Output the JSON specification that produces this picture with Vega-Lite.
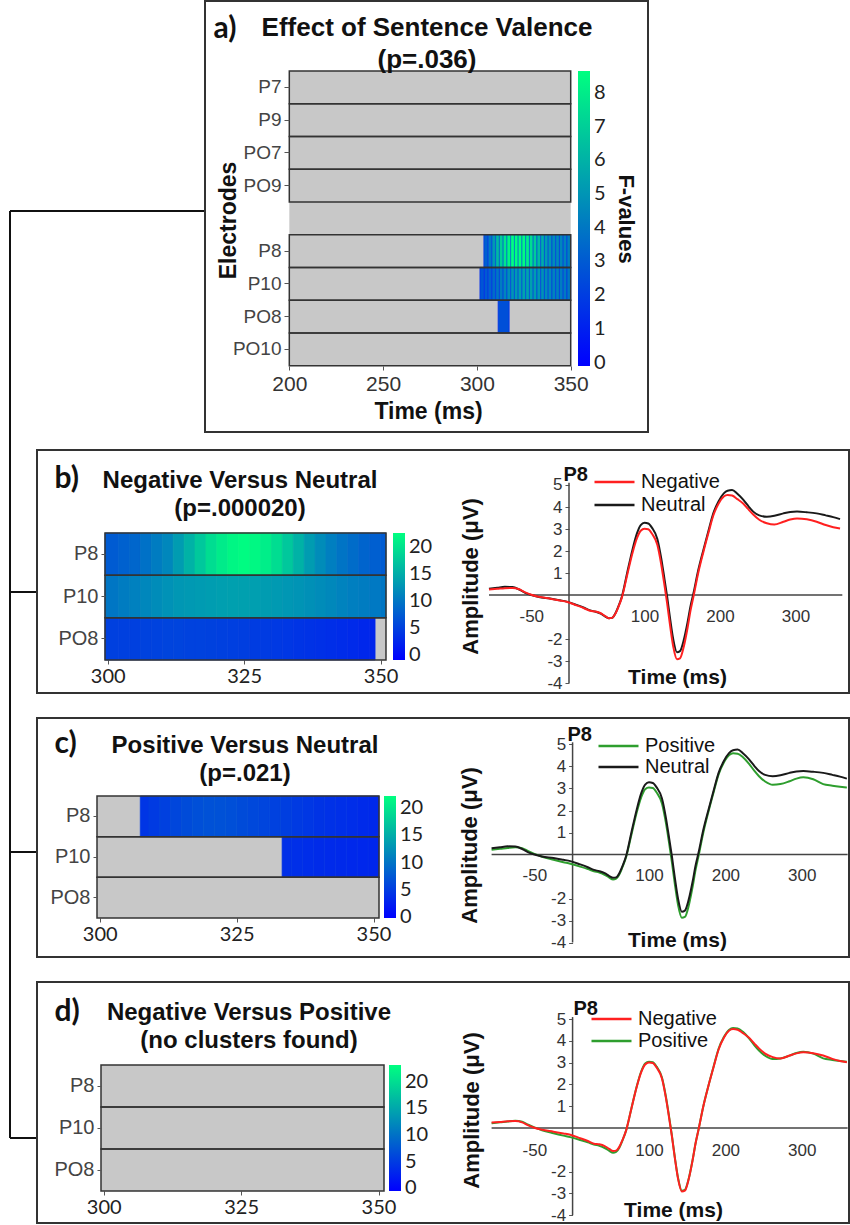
{
"$schema": "https://vega.github.io/schema/vega-lite/v6.json",
"padding": 0,
"autosize": {"type": "pad"},
"background": "white",
"config": {
 "font": "Liberation Sans",
 "view": {"stroke": null},
 "axis": {"grid": false, "domain": false, "labelColor": "#333", "tickColor": "#555", "labelFont": "Liberation Sans", "titleFont": "Liberation Sans"},
 "legend": {"labelFont": "Liberation Sans", "titleFont": "Liberation Sans"},
 "title": {"font": "Liberation Sans", "fontWeight": "bold", "fontSize": 24, "color": "#111", "anchor": "middle", "frame": "group", "lineHeight": 28}
},
"datasets": {
 "elecA": [{"e":"P7"},{"e":"P9"},{"e":"PO7"},{"e":"PO9"},{"e":"gap"},{"e":"P8"},{"e":"P10"},{"e":"PO8"},{"e":"PO10"}],
 "elec3": [{"e":"P8"},{"e":"P10"},{"e":"PO8"}],
 "erp": [
  {"t":-106,"Neutral":0.28,"Negative":0.25,"Positive":0.22},
  {"t":-95,"Neutral":0.33,"Negative":0.28,"Positive":0.26},
  {"t":-85,"Neutral":0.37,"Negative":0.31,"Positive":0.30},
  {"t":-75,"Neutral":0.36,"Negative":0.32,"Positive":0.33},
  {"t":-66,"Neutral":0.25,"Negative":0.26,"Positive":0.29},
  {"t":-58,"Neutral":0.10,"Negative":0.12,"Positive":0.15},
  {"t":-50,"Neutral":0.0,"Negative":0.01,"Positive":0.03},
  {"t":-40,"Neutral":-0.09,"Negative":-0.08,"Positive":-0.10},
  {"t":-25,"Neutral":-0.16,"Negative":-0.17,"Positive":-0.24},
  {"t":-12,"Neutral":-0.24,"Negative":-0.25,"Positive":-0.35},
  {"t":-3,"Neutral":-0.30,"Negative":-0.31,"Positive":-0.42},
  {"t":10,"Neutral":-0.45,"Negative":-0.47,"Positive":-0.55},
  {"t":20,"Neutral":-0.58,"Negative":-0.60,"Positive":-0.66},
  {"t":28,"Neutral":-0.70,"Negative":-0.72,"Positive":-0.76},
  {"t":35,"Neutral":-0.76,"Negative":-0.75,"Positive":-0.82},
  {"t":42,"Neutral":-0.85,"Negative":-0.83,"Positive":-0.92},
  {"t":48,"Neutral":-0.98,"Negative":-0.96,"Positive":-1.05},
  {"t":53,"Neutral":-1.06,"Negative":-1.06,"Positive":-1.14},
  {"t":57,"Neutral":-1.04,"Negative":-1.04,"Positive":-1.10},
  {"t":61,"Neutral":-0.86,"Negative":-0.88,"Positive":-0.92},
  {"t":65,"Neutral":-0.55,"Negative":-0.58,"Positive":-0.60},
  {"t":70,"Neutral":-0.08,"Negative":-0.12,"Positive":-0.12},
  {"t":77,"Neutral":1.00,"Negative":0.90,"Positive":0.90},
  {"t":84,"Neutral":2.05,"Negative":1.90,"Positive":1.92},
  {"t":90,"Neutral":2.80,"Negative":2.58,"Positive":2.62},
  {"t":95,"Neutral":3.18,"Negative":2.92,"Positive":2.97},
  {"t":100,"Neutral":3.28,"Negative":3.01,"Positive":3.05},
  {"t":105,"Neutral":3.25,"Negative":2.99,"Positive":3.02},
  {"t":110,"Neutral":3.05,"Negative":2.78,"Positive":2.82},
  {"t":117,"Neutral":2.55,"Negative":2.28,"Positive":2.32},
  {"t":122,"Neutral":1.70,"Negative":1.42,"Positive":1.47},
  {"t":126,"Neutral":0.83,"Negative":0.55,"Positive":0.60},
  {"t":130,"Neutral":-0.08,"Negative":-0.38,"Positive":-0.34},
  {"t":134,"Neutral":-1.10,"Negative":-1.42,"Positive":-1.38},
  {"t":138,"Neutral":-2.00,"Negative":-2.33,"Positive":-2.28},
  {"t":143,"Neutral":-2.60,"Negative":-2.92,"Positive":-2.88},
  {"t":147,"Neutral":-2.55,"Negative":-2.88,"Positive":-2.84},
  {"t":152,"Neutral":-2.05,"Negative":-2.35,"Positive":-2.33},
  {"t":157,"Neutral":-1.25,"Negative":-1.50,"Positive":-1.49},
  {"t":161,"Neutral":-0.50,"Negative":-0.70,"Positive":-0.70},
  {"t":165,"Neutral":0.10,"Negative":-0.05,"Positive":-0.05},
  {"t":171,"Neutral":1.10,"Negative":0.98,"Positive":0.98},
  {"t":178,"Neutral":2.05,"Negative":1.96,"Positive":1.97},
  {"t":185,"Neutral":2.95,"Negative":2.86,"Positive":2.88},
  {"t":191,"Neutral":3.70,"Negative":3.60,"Positive":3.63},
  {"t":198,"Neutral":4.25,"Negative":4.15,"Positive":4.18},
  {"t":205,"Neutral":4.62,"Negative":4.48,"Positive":4.52},
  {"t":210,"Neutral":4.74,"Negative":4.55,"Positive":4.60},
  {"t":216,"Neutral":4.77,"Negative":4.52,"Positive":4.58},
  {"t":223,"Neutral":4.60,"Negative":4.36,"Positive":4.42},
  {"t":231,"Neutral":4.32,"Negative":4.15,"Positive":4.12},
  {"t":238,"Neutral":4.02,"Negative":3.88,"Positive":3.80},
  {"t":244,"Neutral":3.79,"Negative":3.66,"Positive":3.56},
  {"t":252,"Neutral":3.62,"Negative":3.42,"Positive":3.32},
  {"t":262,"Neutral":3.56,"Negative":3.26,"Positive":3.17},
  {"t":272,"Neutral":3.60,"Negative":3.20,"Positive":3.20},
  {"t":284,"Neutral":3.71,"Negative":3.33,"Positive":3.33},
  {"t":293,"Neutral":3.77,"Negative":3.43,"Positive":3.45},
  {"t":302,"Neutral":3.79,"Negative":3.48,"Positive":3.51},
  {"t":315,"Neutral":3.76,"Negative":3.44,"Positive":3.42},
  {"t":328,"Neutral":3.71,"Negative":3.33,"Positive":3.20},
  {"t":340,"Neutral":3.62,"Negative":3.18,"Positive":3.13},
  {"t":350,"Neutral":3.54,"Negative":3.08,"Positive":3.08},
  {"t":359,"Neutral":3.45,"Negative":3.02,"Positive":3.04}
 ],
 "heat": [
  {"p":"a","e":"P8","a":303.7,"b":306,"f":3.2},{"p":"a","e":"P8","a":306,"b":308,"f":4.2},{"p":"a","e":"P8","a":308,"b":310,"f":5.2},{"p":"a","e":"P8","a":310,"b":312,"f":6.2},{"p":"a","e":"P8","a":312,"b":314,"f":7.0},{"p":"a","e":"P8","a":314,"b":316,"f":7.8},{"p":"a","e":"P8","a":316,"b":318,"f":8.3},{"p":"a","e":"P8","a":318,"b":320,"f":8.6},{"p":"a","e":"P8","a":320,"b":322,"f":8.7},{"p":"a","e":"P8","a":322,"b":324,"f":8.7},{"p":"a","e":"P8","a":324,"b":326,"f":8.5},{"p":"a","e":"P8","a":326,"b":328,"f":8.1},{"p":"a","e":"P8","a":328,"b":330,"f":7.5},{"p":"a","e":"P8","a":330,"b":332,"f":6.9},{"p":"a","e":"P8","a":332,"b":334,"f":6.3},{"p":"a","e":"P8","a":334,"b":336,"f":5.8},{"p":"a","e":"P8","a":336,"b":338,"f":5.3},{"p":"a","e":"P8","a":338,"b":340,"f":5.0},{"p":"a","e":"P8","a":340,"b":342,"f":4.7},{"p":"a","e":"P8","a":342,"b":344,"f":4.6},{"p":"a","e":"P8","a":344,"b":346,"f":4.5},{"p":"a","e":"P8","a":346,"b":348,"f":4.4},{"p":"a","e":"P8","a":348,"b":350,"f":4.3},
  {"p":"a","e":"P10","a":301.6,"b":304,"f":2.8},{"p":"a","e":"P10","a":304,"b":306,"f":3.0},{"p":"a","e":"P10","a":306,"b":308,"f":3.3},{"p":"a","e":"P10","a":308,"b":310,"f":3.6},{"p":"a","e":"P10","a":310,"b":312,"f":3.9},{"p":"a","e":"P10","a":312,"b":314,"f":4.2},{"p":"a","e":"P10","a":314,"b":316,"f":4.5},{"p":"a","e":"P10","a":316,"b":318,"f":4.8},{"p":"a","e":"P10","a":318,"b":320,"f":5.0},{"p":"a","e":"P10","a":320,"b":322,"f":5.2},{"p":"a","e":"P10","a":322,"b":324,"f":5.4},{"p":"a","e":"P10","a":324,"b":326,"f":5.5},{"p":"a","e":"P10","a":326,"b":328,"f":5.5},{"p":"a","e":"P10","a":328,"b":330,"f":5.4},{"p":"a","e":"P10","a":330,"b":332,"f":5.3},{"p":"a","e":"P10","a":332,"b":334,"f":5.1},{"p":"a","e":"P10","a":334,"b":336,"f":4.9},{"p":"a","e":"P10","a":336,"b":338,"f":4.7},{"p":"a","e":"P10","a":338,"b":340,"f":4.6},{"p":"a","e":"P10","a":340,"b":342,"f":4.4},{"p":"a","e":"P10","a":342,"b":344,"f":4.3},{"p":"a","e":"P10","a":344,"b":346,"f":4.2},{"p":"a","e":"P10","a":346,"b":348,"f":4.1},{"p":"a","e":"P10","a":348,"b":350,"f":4.0},
  {"p":"a","e":"PO8","a":311.3,"b":317.2,"f":2.6},
  {"p":"b","e":"P8","a":299.5,"b":302,"f":7.5},{"p":"b","e":"P8","a":302,"b":304,"f":8},{"p":"b","e":"P8","a":304,"b":306,"f":8.5},{"p":"b","e":"P8","a":306,"b":308,"f":9.5},{"p":"b","e":"P8","a":308,"b":310,"f":10.5},{"p":"b","e":"P8","a":310,"b":312,"f":11.5},{"p":"b","e":"P8","a":312,"b":314,"f":13.5},{"p":"b","e":"P8","a":314,"b":316,"f":15.5},{"p":"b","e":"P8","a":316,"b":318,"f":17.5},{"p":"b","e":"P8","a":318,"b":320,"f":19.5},{"p":"b","e":"P8","a":320,"b":322,"f":20.8},{"p":"b","e":"P8","a":322,"b":324,"f":21.8},{"p":"b","e":"P8","a":324,"b":326,"f":22.3},{"p":"b","e":"P8","a":326,"b":328,"f":22},{"p":"b","e":"P8","a":328,"b":330,"f":21},{"p":"b","e":"P8","a":330,"b":332,"f":19.5},{"p":"b","e":"P8","a":332,"b":334,"f":17.5},{"p":"b","e":"P8","a":334,"b":336,"f":15.5},{"p":"b","e":"P8","a":336,"b":338,"f":13.5},{"p":"b","e":"P8","a":338,"b":340,"f":12},{"p":"b","e":"P8","a":340,"b":342,"f":10.8},{"p":"b","e":"P8","a":342,"b":344,"f":9.8},{"p":"b","e":"P8","a":344,"b":346,"f":9},{"p":"b","e":"P8","a":346,"b":348,"f":8.3},{"p":"b","e":"P8","a":348,"b":350,"f":7.8},{"p":"b","e":"P8","a":350,"b":351,"f":7.5},
  {"p":"b","e":"P10","a":299.5,"b":302,"f":10},{"p":"b","e":"P10","a":302,"b":304,"f":10.5},{"p":"b","e":"P10","a":304,"b":306,"f":11},{"p":"b","e":"P10","a":306,"b":308,"f":11.5},{"p":"b","e":"P10","a":308,"b":310,"f":12},{"p":"b","e":"P10","a":310,"b":312,"f":12.5},{"p":"b","e":"P10","a":312,"b":314,"f":13},{"p":"b","e":"P10","a":314,"b":316,"f":13.2},{"p":"b","e":"P10","a":316,"b":318,"f":13.4},{"p":"b","e":"P10","a":318,"b":320,"f":13.6},{"p":"b","e":"P10","a":320,"b":322,"f":13.7},{"p":"b","e":"P10","a":322,"b":324,"f":13.8},{"p":"b","e":"P10","a":324,"b":326,"f":13.8},{"p":"b","e":"P10","a":326,"b":328,"f":13.7},{"p":"b","e":"P10","a":328,"b":330,"f":13.5},{"p":"b","e":"P10","a":330,"b":332,"f":13.3},{"p":"b","e":"P10","a":332,"b":334,"f":13},{"p":"b","e":"P10","a":334,"b":336,"f":12.7},{"p":"b","e":"P10","a":336,"b":338,"f":12.4},{"p":"b","e":"P10","a":338,"b":340,"f":12},{"p":"b","e":"P10","a":340,"b":342,"f":11.6},{"p":"b","e":"P10","a":342,"b":344,"f":11.2},{"p":"b","e":"P10","a":344,"b":346,"f":10.8},{"p":"b","e":"P10","a":346,"b":348,"f":10.5},{"p":"b","e":"P10","a":348,"b":350,"f":10.2},{"p":"b","e":"P10","a":350,"b":351,"f":10},
  {"p":"b","e":"PO8","a":299.5,"b":302,"f":5},{"p":"b","e":"PO8","a":302,"b":304,"f":5},{"p":"b","e":"PO8","a":304,"b":306,"f":5},{"p":"b","e":"PO8","a":306,"b":308,"f":5.2},{"p":"b","e":"PO8","a":308,"b":310,"f":5.2},{"p":"b","e":"PO8","a":310,"b":312,"f":5.3},{"p":"b","e":"PO8","a":312,"b":314,"f":5.3},{"p":"b","e":"PO8","a":314,"b":316,"f":5.2},{"p":"b","e":"PO8","a":316,"b":318,"f":5.2},{"p":"b","e":"PO8","a":318,"b":320,"f":5.1},{"p":"b","e":"PO8","a":320,"b":322,"f":5},{"p":"b","e":"PO8","a":322,"b":324,"f":4.9},{"p":"b","e":"PO8","a":324,"b":326,"f":4.8},{"p":"b","e":"PO8","a":326,"b":328,"f":4.6},{"p":"b","e":"PO8","a":328,"b":330,"f":4.5},{"p":"b","e":"PO8","a":330,"b":332,"f":4.3},{"p":"b","e":"PO8","a":332,"b":334,"f":4.1},{"p":"b","e":"PO8","a":334,"b":336,"f":3.9},{"p":"b","e":"PO8","a":336,"b":338,"f":3.7},{"p":"b","e":"PO8","a":338,"b":340,"f":3.5},{"p":"b","e":"PO8","a":340,"b":342,"f":3.3},{"p":"b","e":"PO8","a":342,"b":344,"f":3.1},{"p":"b","e":"PO8","a":344,"b":346,"f":2.9},{"p":"b","e":"PO8","a":346,"b":348,"f":2.7},{"p":"b","e":"PO8","a":348,"b":349,"f":2.5},
  {"p":"c","e":"P8","a":307.4,"b":309,"f":4.5},{"p":"c","e":"P8","a":309,"b":311,"f":5},{"p":"c","e":"P8","a":311,"b":313,"f":5.5},{"p":"c","e":"P8","a":313,"b":315,"f":6},{"p":"c","e":"P8","a":315,"b":317,"f":6.5},{"p":"c","e":"P8","a":317,"b":319,"f":6.8},{"p":"c","e":"P8","a":319,"b":321,"f":7},{"p":"c","e":"P8","a":321,"b":323,"f":7},{"p":"c","e":"P8","a":323,"b":325,"f":6.8},{"p":"c","e":"P8","a":325,"b":327,"f":6.5},{"p":"c","e":"P8","a":327,"b":329,"f":6.2},{"p":"c","e":"P8","a":329,"b":331,"f":5.9},{"p":"c","e":"P8","a":331,"b":333,"f":5.6},{"p":"c","e":"P8","a":333,"b":335,"f":5.3},{"p":"c","e":"P8","a":335,"b":337,"f":5},{"p":"c","e":"P8","a":337,"b":339,"f":4.7},{"p":"c","e":"P8","a":339,"b":341,"f":4.4},{"p":"c","e":"P8","a":341,"b":343,"f":4.2},{"p":"c","e":"P8","a":343,"b":345,"f":4},{"p":"c","e":"P8","a":345,"b":347,"f":3.8},{"p":"c","e":"P8","a":347,"b":349,"f":3.6},{"p":"c","e":"P8","a":349,"b":351,"f":3.4},
  {"p":"c","e":"P10","a":333.3,"b":335,"f":4},{"p":"c","e":"P10","a":335,"b":337,"f":4},{"p":"c","e":"P10","a":337,"b":339,"f":3.8},{"p":"c","e":"P10","a":339,"b":341,"f":3.7},{"p":"c","e":"P10","a":341,"b":343,"f":3.6},{"p":"c","e":"P10","a":343,"b":345,"f":3.5},{"p":"c","e":"P10","a":345,"b":347,"f":3.4},{"p":"c","e":"P10","a":347,"b":349,"f":3.3},{"p":"c","e":"P10","a":349,"b":351,"f":3.2}
 ]
},
"spacing": 0,
"bounds": "flush",
"hconcat": [
 {
  "width": 37, "height": 1222,
  "data": {"values": [{}]},
  "layer": [
   {"mark": {"type": "rule", "color": "#111", "strokeWidth": 2}, "encoding": {"x": {"datum": 10, "type": "quantitative", "scale": {"domain": [0, 37], "nice": false, "zero": false}, "axis": null}, "y": {"datum": 211, "type": "quantitative", "scale": {"domain": [1, 1223], "nice": false, "zero": false, "reverse": true}, "axis": null}, "y2": {"datum": 1138}}},
   {"mark": {"type": "rule", "color": "#111", "strokeWidth": 2}, "encoding": {"x": {"datum": 10, "type": "quantitative", "scale": {"domain": [0, 37], "nice": false, "zero": false}, "axis": null}, "x2": {"datum": 205}, "y": {"datum": 211, "type": "quantitative", "scale": {"domain": [1, 1223], "nice": false, "zero": false, "reverse": true}, "axis": null}}},
   {"mark": {"type": "rule", "color": "#111", "strokeWidth": 2}, "encoding": {"x": {"datum": 10, "type": "quantitative", "scale": {"domain": [0, 37], "nice": false, "zero": false}, "axis": null}, "x2": {"datum": 37}, "y": {"datum": 592, "type": "quantitative", "scale": {"domain": [1, 1223], "nice": false, "zero": false, "reverse": true}, "axis": null}}},
   {"mark": {"type": "rule", "color": "#111", "strokeWidth": 2}, "encoding": {"x": {"datum": 10, "type": "quantitative", "scale": {"domain": [0, 37], "nice": false, "zero": false}, "axis": null}, "x2": {"datum": 37}, "y": {"datum": 852, "type": "quantitative", "scale": {"domain": [1, 1223], "nice": false, "zero": false, "reverse": true}, "axis": null}}},
   {"mark": {"type": "rule", "color": "#111", "strokeWidth": 2}, "encoding": {"x": {"datum": 10, "type": "quantitative", "scale": {"domain": [0, 37], "nice": false, "zero": false}, "axis": null}, "x2": {"datum": 37}, "y": {"datum": 1138, "type": "quantitative", "scale": {"domain": [1, 1223], "nice": false, "zero": false, "reverse": true}, "axis": null}}}
  ]
 },
 {
  "spacing": 16,
  "bounds": "full",
  "vconcat": [
   {
    "spacing": 10,
    "bounds": "flush",
    "hconcat": [
     {"width": 158, "height": 431, "data": {"values": [{}]}, "mark": {"type": "point", "opacity": 0}},
     {
      "width": 443, "height": 431,
      "view": {"stroke": "#333", "strokeWidth": 2},
      "title": {"text": ["Effect of Sentence Valence", "(p=.036)"], "dx": 0.5, "offset": -72, "fontSize": 26, "lineHeight": 32},
      "layer": [
       {"data": {"name": "elecA"}, "mark": {"type": "rect", "fill": "#c8c8c8"},
        "encoding": {
         "x": {"datum": 200, "type": "quantitative", "scale": {"domain": [155.06, 391.2], "nice": false, "zero": false},
               "axis": {"orient": "bottom", "offset": -66, "values": [200, 250, 300, 350], "tickSize": 4, "labelFontSize": 21, "labelColor": "#333", "labelPadding": 3, "title": "Time (ms)", "titleFontSize": 23, "titleFontWeight": "bold", "titleColor": "#111", "titleX": 223, "titleY": 52, "titleAlign": "center", "titleBaseline": "alphabetic"}},
         "x2": {"datum": 350},
         "y": {"field": "e", "type": "nominal", "scale": {"type": "band", "domain": ["P7","P9","PO7","PO9","gap","P8","P10","PO8","PO10"], "range": [70, 364.7], "paddingInner": 0, "paddingOuter": 0},
               "axis": {"orient": "left", "offset": -84, "values": ["P7","P9","PO7","PO9","P8","P10","PO8","PO10"], "tickSize": 5, "labelFontSize": 19, "labelColor": "#444", "labelPadding": 3, "title": "Electrodes", "titleFontSize": 23, "titleFontWeight": "bold", "titleColor": "#111", "titleAngle": -90, "titleX": -61, "titleY": 219, "titleAlign": "center", "titleBaseline": "middle"}}
        }},
       {"data": {"name": "heat"}, "transform": [{"filter": "datum.p === 'a'"}], "mark": {"type": "rect", "strokeWidth": 0.7},
        "encoding": {
         "x": {"field": "a", "type": "quantitative", "scale": {"domain": [155.06, 391.2], "nice": false, "zero": false}, "axis": null},
         "x2": {"field": "b"},
         "y": {"field": "e", "type": "nominal", "scale": {"type": "band", "domain": ["P7","P9","PO7","PO9","gap","P8","P10","PO8","PO10"], "range": [70, 364.7], "paddingInner": 0, "paddingOuter": 0}, "axis": null},
         "stroke": {"field": "f", "type": "quantitative", "scale": {"domain": [-0.1, 8.65], "range": ["#0000ff", "#00ff80"], "interpolate": "rgb", "nice": false, "zero": false}, "legend": null},
         "color": {"field": "f", "type": "quantitative", "scale": {"domain": [-0.1, 8.65], "range": ["#0000ff", "#00ff80"], "interpolate": "rgb", "nice": false, "zero": false},
                   "legend": {"orient": "none", "legendX": 373, "legendY": 70, "direction": "vertical", "gradientLength": 295, "gradientThickness": 12, "gradientStrokeWidth": 0, "values": [0,1,2,3,4,5,6,7,8], "labelOverlap": false, "labelBaseline": "middle", "labelFont": "Lato", "labelFontSize": 20, "labelColor": "#222", "labelOffset": 4, "title": "F-values", "titleOrient": "right", "titleFontSize": 22, "titleFontWeight": "bold", "titleColor": "#111", "titlePadding": 8, "padding": 0}}
        }},
       {"data": {"name": "elecA"}, "mark": {"type": "rect", "fillOpacity": 0, "stroke": "#333", "strokeWidth": 1.5},
        "encoding": {
         "x": {"datum": 200, "type": "quantitative", "scale": {"domain": [155.06, 391.2], "nice": false, "zero": false}, "axis": null},
         "x2": {"datum": 350},
         "y": {"field": "e", "type": "nominal", "scale": {"type": "band", "domain": ["P7","P9","PO7","PO9","gap","P8","P10","PO8","PO10"], "range": [70, 364.7], "paddingInner": 0, "paddingOuter": 0},
               "axis": {"orient": "right", "labels": false, "ticks": false, "title": "a)", "titleAngle": 0, "titleAlign": "left", "titleBaseline": "alphabetic", "titleX": -435, "titleY": 36, "titleFont": "Lato", "titleFontSize": 30, "titleFontWeight": "bold", "titleColor": "#111"}},
         "strokeOpacity": {"condition": {"test": "datum.e === 'gap'", "value": 0}, "value": 1}
        }}
      ],
      "resolve": {"scale": {"x": "independent", "y": "independent", "color": "independent"}}
     }
    ]
   },
   {
    "spacing": 25,
    "bounds": "flush",
    "vconcat": [
     {
      "width": 812, "height": 243,
      "view": {"stroke": "#333", "strokeWidth": 2},
      "title": {"text": ["Negative Versus Neutral", "(p=.000020)"], "dx": -203, "offset": -71},
      "layer": [
       {"data": {"name": "elec3"}, "mark": {"type": "rect", "fill": "#c8c8c8"},
        "encoding": {
         "x": {"datum": 299.5, "type": "quantitative", "scale": {"domain": [287.037, 435.86], "nice": false, "zero": false},
               "axis": {"orient": "bottom", "offset": -33, "values": [300, 325, 350], "tickSize": 4, "labelFont": "Lato", "labelFontSize": 20, "labelColor": "#222", "labelPadding": 2, "title": null}},
         "x2": {"datum": 351},
         "y": {"field": "e", "type": "nominal", "scale": {"type": "band", "domain": ["P8","P10","PO8"], "range": [83, 210], "paddingInner": 0, "paddingOuter": 0},
               "axis": {"orient": "left", "offset": -68, "tickSize": 4, "labelFontSize": 20, "labelColor": "#444", "labelPadding": 3, "title": null}}
        }},
       {"data": {"name": "heat"}, "transform": [{"filter": "datum.p === 'b'"}], "mark": {"type": "rect", "strokeWidth": 0.7},
        "encoding": {
         "x": {"field": "a", "type": "quantitative", "scale": {"domain": [287.037, 435.86], "nice": false, "zero": false}, "axis": null},
         "x2": {"field": "b"},
         "y": {"field": "e", "type": "nominal", "scale": {"type": "band", "domain": ["P8","P10","PO8"], "range": [83, 210], "paddingInner": 0, "paddingOuter": 0}, "axis": null},
         "stroke": {"field": "f", "type": "quantitative", "scale": {"domain": [-0.93, 22.6], "range": ["#0000ff", "#00ff80"], "interpolate": "rgb", "nice": false, "zero": false}, "legend": null},
         "color": {"field": "f", "type": "quantitative", "scale": {"domain": [-0.93, 22.6], "range": ["#0000ff", "#00ff80"], "interpolate": "rgb", "nice": false, "zero": false},
                   "legend": {"orient": "none", "legendX": 356, "legendY": 83, "direction": "vertical", "gradientLength": 127, "gradientThickness": 12, "gradientStrokeWidth": 0, "values": [0,5,10,15,20], "labelOverlap": false, "labelBaseline": "middle", "labelFont": "Lato", "labelFontSize": 20, "labelColor": "#222", "labelOffset": 4, "title": null, "padding": 0}}
        }},
       {"data": {"name": "elec3"}, "mark": {"type": "rect", "fillOpacity": 0, "stroke": "#333", "strokeWidth": 1.5},
        "encoding": {
         "x": {"datum": 299.5, "type": "quantitative", "scale": {"domain": [287.037, 435.86], "nice": false, "zero": false}, "axis": null},
         "x2": {"datum": 351},
         "y": {"field": "e", "type": "nominal", "scale": {"type": "band", "domain": ["P8","P10","PO8"], "range": [83, 210], "paddingInner": 0, "paddingOuter": 0},
               "axis": {"orient": "right", "labels": false, "ticks": false, "title": "b)", "titleAngle": 0, "titleAlign": "left", "titleBaseline": "alphabetic", "titleX": -795, "titleY": 37, "titleFont": "Lato", "titleFontSize": 30, "titleFontWeight": "bold", "titleColor": "#111"}}
        }},
       {"data": {"values": [{}]}, "mark": {"type": "rule", "color": "#444", "strokeWidth": 1.5},
        "encoding": {
         "x": {"datum": -106, "type": "quantitative", "scale": {"domain": [-704.64, 370.86], "nice": false, "zero": false},
               "axis": {"orient": "top", "labels": false, "ticks": false, "title": "P8", "titleAngle": 0, "titleAlign": "left", "titleBaseline": "alphabetic", "titleX": 526, "titleY": 30, "titleFontSize": 20, "titleFontWeight": "bold", "titleColor": "#111"}},
         "x2": {"datum": 362},
         "y": {"datum": 0, "type": "quantitative", "scale": {"domain": [-4.4545, 6.5909], "nice": false, "zero": false}, "axis": null}
        }},
       {"data": {"values": [{}]}, "mark": {"type": "rule", "color": "#444", "strokeWidth": 1.5},
        "encoding": {
         "x": {"datum": 0, "type": "quantitative", "scale": {"domain": [-704.64, 370.86], "nice": false, "zero": false}, "axis": null},
         "y": {"datum": -4, "type": "quantitative", "scale": {"domain": [-4.4545, 6.5909], "nice": false, "zero": false}, "axis": null},
         "y2": {"datum": 5.1}
        }},
       {"data": {"name": "erp"}, "transform": [{"fold": ["Positive", "Neutral", "Negative"], "as": ["cond", "amp"]}, {"filter": {"field": "cond", "oneOf": ["Negative", "Neutral"]}}],
        "mark": {"type": "line", "interpolate": "monotone", "strokeWidth": 2},
        "encoding": {
         "x": {"field": "t", "type": "quantitative", "scale": {"domain": [-704.64, 370.86], "nice": false, "zero": false},
               "axis": {"orient": "bottom", "offset": -98, "values": [-50, 100, 200, 300], "ticks": false, "labelExpr": "'' + datum.value", "labelFontSize": 17, "labelColor": "#333", "labelPadding": 13, "title": "Time (ms)", "titleFontSize": 21, "titleFontWeight": "bold", "titleColor": "#111", "titleX": 640, "titleY": 88, "titleAlign": "center", "titleBaseline": "alphabetic"}},
         "y": {"field": "amp", "type": "quantitative", "scale": {"domain": [-4.4545, 6.5909], "nice": false, "zero": false},
               "axis": {"orient": "left", "offset": -532, "values": [5, 4, 3, 2, 1, -2, -3, -4], "tickSize": 4, "labelExpr": "'' + datum.value", "labelFontSize": 17, "labelColor": "#333", "labelPadding": 3, "title": "Amplitude (μV)", "titleFontSize": 22, "titleFontWeight": "bold", "titleColor": "#111", "titleAngle": -90, "titleX": -99, "titleY": 126, "titleAlign": "center", "titleBaseline": "middle"}},
         "color": {"field": "cond", "type": "nominal", "scale": {"domain": ["Negative", "Neutral"], "range": ["#ff2020", "#1a1a1a"]},
                   "legend": {"orient": "none", "legendX": 556, "legendY": 22, "title": null, "symbolType": "stroke", "symbolSize": 1600, "symbolStrokeWidth": 2.5, "clipHeight": 20, "labelFontSize": 20, "labelColor": "#111", "labelOffset": 5, "rowPadding": 3, "padding": 0}}
        }}
      ],
      "resolve": {"scale": {"x": "independent", "y": "independent", "color": "independent"}}
     },
     {
      "width": 812, "height": 239,
      "view": {"stroke": "#333", "strokeWidth": 2},
      "title": {"text": ["Positive Versus Neutral", "(p=.021)"], "dx": -198, "offset": -68},
      "layer": [
       {"data": {"name": "elec3"}, "mark": {"type": "rect", "fill": "#c8c8c8"},
        "encoding": {
         "x": {"datum": 299.5, "type": "quantitative", "scale": {"domain": [288.543, 436.83], "nice": false, "zero": false},
               "axis": {"orient": "bottom", "offset": -39, "values": [300, 325, 350], "tickSize": 4, "labelFont": "Lato", "labelFontSize": 20, "labelColor": "#222", "labelPadding": 2, "title": null}},
         "x2": {"datum": 351},
         "y": {"field": "e", "type": "nominal", "scale": {"type": "band", "domain": ["P8","P10","PO8"], "range": [78, 200], "paddingInner": 0, "paddingOuter": 0},
               "axis": {"orient": "left", "offset": -60, "tickSize": 4, "labelFontSize": 20, "labelColor": "#444", "labelPadding": 3, "title": null}}
        }},
       {"data": {"name": "heat"}, "transform": [{"filter": "datum.p === 'c'"}], "mark": {"type": "rect", "strokeWidth": 0.7},
        "encoding": {
         "x": {"field": "a", "type": "quantitative", "scale": {"domain": [288.543, 436.83], "nice": false, "zero": false}, "axis": null},
         "x2": {"field": "b"},
         "y": {"field": "e", "type": "nominal", "scale": {"type": "band", "domain": ["P8","P10","PO8"], "range": [78, 200], "paddingInner": 0, "paddingOuter": 0}, "axis": null},
         "stroke": {"field": "f", "type": "quantitative", "scale": {"domain": [-0.1, 22.2], "range": ["#0000ff", "#00ff80"], "interpolate": "rgb", "nice": false, "zero": false}, "legend": null},
         "color": {"field": "f", "type": "quantitative", "scale": {"domain": [-0.1, 22.2], "range": ["#0000ff", "#00ff80"], "interpolate": "rgb", "nice": false, "zero": false},
                   "legend": {"orient": "none", "legendX": 347, "legendY": 78, "direction": "vertical", "gradientLength": 122, "gradientThickness": 12, "gradientStrokeWidth": 0, "values": [0,5,10,15,20], "labelOverlap": false, "labelBaseline": "middle", "labelFont": "Lato", "labelFontSize": 20, "labelColor": "#222", "labelOffset": 4, "title": null, "padding": 0}}
        }},
       {"data": {"name": "elec3"}, "mark": {"type": "rect", "fillOpacity": 0, "stroke": "#333", "strokeWidth": 1.5},
        "encoding": {
         "x": {"datum": 299.5, "type": "quantitative", "scale": {"domain": [288.543, 436.83], "nice": false, "zero": false}, "axis": null},
         "x2": {"datum": 351},
         "y": {"field": "e", "type": "nominal", "scale": {"type": "band", "domain": ["P8","P10","PO8"], "range": [78, 200], "paddingInner": 0, "paddingOuter": 0},
               "axis": {"orient": "right", "labels": false, "ticks": false, "title": "c)", "titleAngle": 0, "titleAlign": "left", "titleBaseline": "alphabetic", "titleX": -795, "titleY": 34, "titleFont": "Lato", "titleFontSize": 30, "titleFontWeight": "bold", "titleColor": "#111"}}
        }},
       {"data": {"values": [{}]}, "mark": {"type": "rule", "color": "#444", "strokeWidth": 1.5},
        "encoding": {
         "x": {"datum": -106, "type": "quantitative", "scale": {"domain": [-701.0, 361.8], "nice": false, "zero": false},
               "axis": {"orient": "top", "labels": false, "ticks": false, "title": "P8", "titleAngle": 0, "titleAlign": "left", "titleBaseline": "alphabetic", "titleX": 530, "titleY": 22, "titleFontSize": 20, "titleFontWeight": "bold", "titleColor": "#111"}},
         "x2": {"datum": 360},
         "y": {"datum": 0, "type": "quantitative", "scale": {"domain": [-4.659, 6.2045], "nice": false, "zero": false}, "axis": null}
        }},
       {"data": {"values": [{}]}, "mark": {"type": "rule", "color": "#444", "strokeWidth": 1.5},
        "encoding": {
         "x": {"datum": 0, "type": "quantitative", "scale": {"domain": [-701.0, 361.8], "nice": false, "zero": false}, "axis": null},
         "y": {"datum": -4, "type": "quantitative", "scale": {"domain": [-4.659, 6.2045], "nice": false, "zero": false}, "axis": null},
         "y2": {"datum": 5.1}
        }},
       {"data": {"name": "erp"}, "transform": [{"fold": ["Positive", "Neutral", "Negative"], "as": ["cond", "amp"]}, {"filter": {"field": "cond", "oneOf": ["Positive", "Neutral"]}}],
        "mark": {"type": "line", "interpolate": "monotone", "strokeWidth": 2},
        "encoding": {
         "x": {"field": "t", "type": "quantitative", "scale": {"domain": [-701.0, 361.8], "nice": false, "zero": false},
               "axis": {"orient": "bottom", "offset": -102.5, "values": [-50, 100, 200, 300], "ticks": false, "labelExpr": "'' + datum.value", "labelFontSize": 17, "labelColor": "#333", "labelPadding": 13, "title": "Time (ms)", "titleFontSize": 21, "titleFontWeight": "bold", "titleColor": "#111", "titleX": 640, "titleY": 91.5, "titleAlign": "center", "titleBaseline": "alphabetic"}},
         "y": {"field": "amp", "type": "quantitative", "scale": {"domain": [-4.659, 6.2045], "nice": false, "zero": false},
               "axis": {"orient": "left", "offset": -535.6, "values": [5, 4, 3, 2, 1, -2, -3, -4], "tickSize": 4, "labelExpr": "'' + datum.value", "labelFontSize": 17, "labelColor": "#333", "labelPadding": 3, "title": "Amplitude (μV)", "titleFontSize": 22, "titleFontWeight": "bold", "titleColor": "#111", "titleAngle": -90, "titleX": -102.6, "titleY": 127, "titleAlign": "center", "titleBaseline": "middle"}},
         "color": {"field": "cond", "type": "nominal", "scale": {"domain": ["Positive", "Neutral"], "range": ["#2e9e2e", "#1a1a1a"]},
                   "legend": {"orient": "none", "legendX": 560, "legendY": 18, "title": null, "symbolType": "stroke", "symbolSize": 1600, "symbolStrokeWidth": 2.5, "clipHeight": 20, "labelFontSize": 20, "labelColor": "#111", "labelOffset": 5, "rowPadding": 1, "padding": 0}}
        }}
      ],
      "resolve": {"scale": {"x": "independent", "y": "independent", "color": "independent"}}
     },
     {
      "width": 812, "height": 241,
      "view": {"stroke": "#333", "strokeWidth": 2},
      "title": {"text": ["Negative Versus Positive", "(no clusters found)"], "dx": -194, "offset": -71},
      "layer": [
       {"data": {"name": "elec3"}, "mark": {"type": "rect", "fill": "#c8c8c8"},
        "encoding": {
         "x": {"datum": 299.5, "type": "quantitative", "scale": {"domain": [287.853, 435.62], "nice": false, "zero": false},
               "axis": {"orient": "bottom", "offset": -32, "values": [300, 325, 350], "tickSize": 4, "labelFont": "Lato", "labelFontSize": 20, "labelColor": "#222", "labelPadding": 2, "title": null}},
         "x2": {"datum": 351},
         "y": {"field": "e", "type": "nominal", "scale": {"type": "band", "domain": ["P8","P10","PO8"], "range": [83, 209], "paddingInner": 0, "paddingOuter": 0},
               "axis": {"orient": "left", "offset": -64, "tickSize": 4, "labelFontSize": 20, "labelColor": "#444", "labelPadding": 3, "title": null}}
        }},
       {"data": {"name": "heat"}, "transform": [{"filter": "datum.p === 'd'"}], "mark": {"type": "rect"},
        "encoding": {
         "x": {"field": "a", "type": "quantitative", "scale": {"domain": [287.853, 435.62], "nice": false, "zero": false}, "axis": null},
         "x2": {"field": "b"},
         "y": {"field": "e", "type": "nominal", "scale": {"type": "band", "domain": ["P8","P10","PO8"], "range": [83, 209], "paddingInner": 0, "paddingOuter": 0}, "axis": null},
         "color": {"field": "f", "type": "quantitative", "scale": {"domain": [-0.5, 23.1], "range": ["#0000ff", "#00ff80"], "interpolate": "rgb", "nice": false, "zero": false},
                   "legend": {"orient": "none", "legendX": 352, "legendY": 83, "direction": "vertical", "gradientLength": 126, "gradientThickness": 12, "gradientStrokeWidth": 0, "values": [0,5,10,15,20], "labelOverlap": false, "labelBaseline": "middle", "labelFont": "Lato", "labelFontSize": 20, "labelColor": "#222", "labelOffset": 4, "title": null, "padding": 0}}
        }},
       {"data": {"name": "elec3"}, "mark": {"type": "rect", "fillOpacity": 0, "stroke": "#333", "strokeWidth": 1.5},
        "encoding": {
         "x": {"datum": 299.5, "type": "quantitative", "scale": {"domain": [287.853, 435.62], "nice": false, "zero": false}, "axis": null},
         "x2": {"datum": 351},
         "y": {"field": "e", "type": "nominal", "scale": {"type": "band", "domain": ["P8","P10","PO8"], "range": [83, 209], "paddingInner": 0, "paddingOuter": 0},
               "axis": {"orient": "right", "labels": false, "ticks": false, "title": "d)", "titleAngle": 0, "titleAlign": "left", "titleBaseline": "alphabetic", "titleX": -795, "titleY": 38, "titleFont": "Lato", "titleFontSize": 30, "titleFontWeight": "bold", "titleColor": "#111"}}
        }},
       {"data": {"values": [{}]}, "mark": {"type": "rule", "color": "#444", "strokeWidth": 1.5},
        "encoding": {
         "x": {"datum": -106, "type": "quantitative", "scale": {"domain": [-701.0, 361.8], "nice": false, "zero": false},
               "axis": {"orient": "top", "labels": false, "ticks": false, "title": "P8", "titleAngle": 0, "titleAlign": "left", "titleBaseline": "alphabetic", "titleX": 536, "titleY": 32, "titleFontSize": 20, "titleFontWeight": "bold", "titleColor": "#111"}},
         "x2": {"datum": 360},
         "y": {"datum": 0, "type": "quantitative", "scale": {"domain": [-4.3678, 6.7126], "nice": false, "zero": false}, "axis": null}
        }},
       {"data": {"values": [{}]}, "mark": {"type": "rule", "color": "#444", "strokeWidth": 1.5},
        "encoding": {
         "x": {"datum": 0, "type": "quantitative", "scale": {"domain": [-701.0, 361.8], "nice": false, "zero": false}, "axis": null},
         "y": {"datum": -4, "type": "quantitative", "scale": {"domain": [-4.3678, 6.7126], "nice": false, "zero": false}, "axis": null},
         "y2": {"datum": 5.1}
        }},
       {"data": {"name": "erp"}, "transform": [{"fold": ["Positive", "Neutral", "Negative"], "as": ["cond", "amp"]}, {"filter": {"field": "cond", "oneOf": ["Negative", "Positive"]}}],
        "mark": {"type": "line", "interpolate": "monotone", "strokeWidth": 2},
        "encoding": {
         "x": {"field": "t", "type": "quantitative", "scale": {"domain": [-701.0, 361.8], "nice": false, "zero": false},
               "axis": {"orient": "bottom", "offset": -95, "values": [-50, 100, 200, 300], "ticks": false, "labelExpr": "'' + datum.value", "labelFontSize": 17, "labelColor": "#333", "labelPadding": 14, "title": "Time (ms)", "titleFontSize": 21, "titleFontWeight": "bold", "titleColor": "#111", "titleX": 636, "titleY": 88.7, "titleAlign": "center", "titleBaseline": "alphabetic"}},
         "y": {"field": "amp", "type": "quantitative", "scale": {"domain": [-4.3678, 6.7126], "nice": false, "zero": false},
               "axis": {"orient": "left", "offset": -535.6, "values": [5, 4, 3, 2, 1, -2, -3, -4], "tickSize": 4, "labelExpr": "'' + datum.value", "labelFontSize": 17, "labelColor": "#333", "labelPadding": 3, "title": "Amplitude (μV)", "titleFontSize": 22, "titleFontWeight": "bold", "titleColor": "#111", "titleAngle": -90, "titleX": -101, "titleY": 128, "titleAlign": "center", "titleBaseline": "middle"}},
         "color": {"field": "cond", "type": "nominal", "scale": {"domain": ["Negative", "Positive"], "range": ["#ff2020", "#2e9e2e"]},
                   "legend": {"orient": "none", "legendX": 553, "legendY": 27, "title": null, "symbolType": "stroke", "symbolSize": 1600, "symbolStrokeWidth": 2.5, "clipHeight": 20, "labelFontSize": 20, "labelColor": "#111", "labelOffset": 5, "rowPadding": 2, "padding": 0}}
        }}
      ],
      "resolve": {"scale": {"x": "independent", "y": "independent", "color": "independent"}}
     }
    ]
   }
  ]
 }
]
}
